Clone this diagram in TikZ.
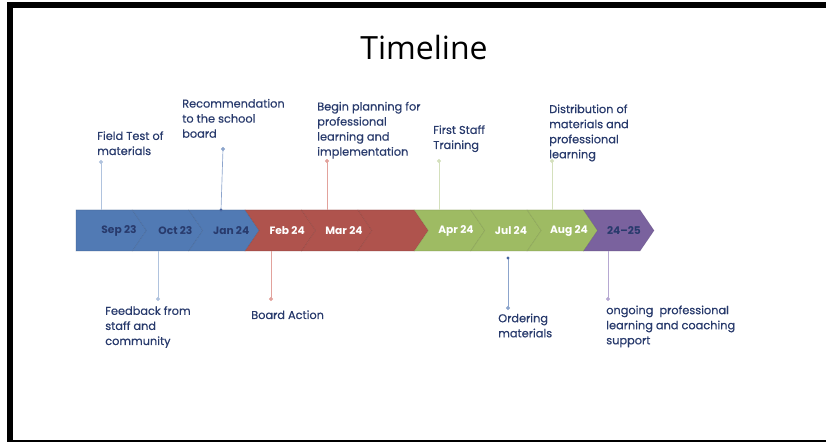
\documentclass[tikz,border=0pt]{standalone}
\usepackage{fontspec}
\setmainfont{Poppins}
\newfontfamily\titlefont{Open Sans}
\newfontfamily\calloutfont{Poppins}[FakeBold=0.5]
\usepackage{tikz}
\usetikzlibrary{calc}

\definecolor{tlblue}{RGB}{81,122,180}
\definecolor{tlred}{RGB}{175,83,77}
\definecolor{tlgreen}{RGB}{158,187,99}
\definecolor{tlpurple}{RGB}{122,98,158}
\definecolor{tlnavy}{RGB}{40,58,108}
\definecolor{pinpaleblue}{RGB}{176,195,222}
\definecolor{pinblue}{RGB}{140,164,204}
\definecolor{pindot}{RGB}{70,100,160}
\definecolor{pinsalmon}{RGB}{226,162,156}
\definecolor{pingreen}{RGB}{212,224,188}
\definecolor{pinpurple}{RGB}{182,168,210}

\tikzset{
  chevblue/.style={fill=tlblue, draw=tlblue!70!black, draw opacity=0.35, line width=0.4pt},
  chevred/.style={fill=tlred, draw=tlred!70!black, draw opacity=0.35, line width=0.4pt},
  chevgreen/.style={fill=tlgreen, draw=tlgreen!70!black, draw opacity=0.35, line width=0.4pt},
  chevpurple/.style={fill=tlpurple, draw=tlpurple!70!black, draw opacity=0.35, line width=0.4pt},
  seglabel/.style={inner sep=0.75pt, font=\fontsize{8}{10}\selectfont\bfseries},
  callout/.style={anchor=base west, inner sep=0pt, align=left, text=tlnavy,
    font=\calloutfont\fontsize{8.5}{11.3}\selectfont},
  pinline/.style={line width=0.5pt},
  pinend/.style={pinline, fill=white},
}

\begin{document}
\begin{tikzpicture}[x=0.75pt,y=0.75pt,yscale=-1,xscale=1]
\useasboundingbox (0,0) rectangle (826,442);

%Shape: Frame
\fill (7,2) rectangle (826,8);
\fill (7,2) rectangle (13,442);
\fill (7,440) rectangle (826,442);

% Title
\node [font=\titlefont\fontsize{24}{28}\selectfont, anchor=base] (title) at (424,60) {Timeline};

%Shape: Chevrons
\draw [chevblue] (76,210) -- (132.4,210) -- (146.4,230.5) -- (132.4,251) -- (76,251) -- cycle ;
\draw [chevblue] (132.4,210) -- (188.8,210) -- (202.8,230.5) -- (188.8,251) -- (132.4,251) -- (146.4,230.5) -- cycle ;
\draw [chevblue] (188.8,210) -- (245.2,210) -- (259.2,230.5) -- (245.2,251) -- (188.8,251) -- (202.8,230.5) -- cycle ;
\draw [chevred] (245.2,210) -- (301.6,210) -- (315.6,230.5) -- (301.6,251) -- (245.2,251) -- (259.2,230.5) -- cycle ;
\draw [chevred] (301.6,210) -- (358,210) -- (372,230.5) -- (358,251) -- (301.6,251) -- (315.6,230.5) -- cycle ;
\draw [chevred] (358,210) -- (414.4,210) -- (428.4,230.5) -- (414.4,251) -- (358,251) -- (372,230.5) -- cycle ;
\draw [chevgreen] (414.4,210) -- (470.8,210) -- (484.8,230.5) -- (470.8,251) -- (414.4,251) -- (428.4,230.5) -- cycle ;
\draw [chevgreen] (470.8,210) -- (527.2,210) -- (541.2,230.5) -- (527.2,251) -- (470.8,251) -- (484.8,230.5) -- cycle ;
\draw [chevgreen] (527.2,210) -- (583.6,210) -- (597.6,230.5) -- (583.6,251) -- (527.2,251) -- (541.2,230.5) -- cycle ;
\draw [chevpurple] (583.6,210) -- (640,210) -- (654,230.5) -- (640,251) -- (583.6,251) -- (597.6,230.5) -- cycle ;

% Segment labels
\node [seglabel, text=tlnavy] (sep23) at (119,230.5) {Sep 23};
\node [seglabel, text=tlnavy] (oct23) at (175.4,230.5) {Oct 23};
\node [seglabel, text=tlnavy] (jan24) at (231.2,230.5) {Jan 24};
\node [seglabel, text=white] (feb24) at (287.2,230.5) {Feb 24};
\node [seglabel, text=white] (mar24) at (344,230.5) {Mar 24};
\node [seglabel, text=white] (apr24) at (456,230.5) {Apr 24};
\node [seglabel, text=white] (jul24) at (511,230.5) {Jul 24};
\node [seglabel, text=white] (aug24) at (569,230.5) {Aug 24};
\node [seglabel, text=tlnavy] (y2425) at (624,230.5) {24–25};

% Text Node (base = last line)
\node [callout] (fieldtest) at (97,155) {Field Test of\\materials};
% Text Node
\node [callout] (recommend) at (182,137.7) {Recommendation\\to the school\\board};
% Text Node
\node [callout] (beginplan) at (317,155.7) {Begin planning for\\professional\\learning and\\implementation};
% Text Node
\node [callout] (firsttraining) at (433,149) {First Staff\\Training};
% Text Node
\node [callout] (distribution) at (549,158.3) {Distribution of\\materials and\\professional\\learning};
% Text Node
\node [callout] (feedback) at (105,345) {Feedback from\\staff and\\community};
% Text Node
\node [callout] (boardaction) at (251,319) {Board Action};
% Text Node
\node [callout] (ordering) at (498,337.3) {Ordering\\materials};
% Text Node
\node [callout] (ongoing) at (606,344.3) {ongoing~ professional\\learning and coaching\\support};

% Pin ends
\coordinate (fieldtest pin) at (101,162);
\coordinate (fieldtest bar) at (101,210);
\coordinate (recommend pin) at (223,149);
\coordinate (recommend bar) at (221,210);
\coordinate (beginplan pin) at (327,161);
\coordinate (beginplan bar) at (327,210);
\coordinate (firsttraining pin) at (439,161);
\coordinate (firsttraining bar) at (439,210);
\coordinate (distribution pin) at (552,161);
\coordinate (distribution bar) at (552,210);
\coordinate (feedback pin) at (158,299);
\coordinate (feedback bar) at (158,251);
\coordinate (boardaction pin) at (271,299);
\coordinate (boardaction bar) at (271,251);
\coordinate (ordering pin) at (508,308);
\coordinate (ordering bar) at (508,258);
\coordinate (ongoing pin) at (608,299);
\coordinate (ongoing bar) at (608,251);

%Straight Lines
\draw [pinline, pinpaleblue] (fieldtest pin) -- (fieldtest bar) ;
\draw [pinline, pinblue] (recommend pin) -- (recommend bar) ;
\draw [pinline, pinsalmon] (beginplan pin) -- (beginplan bar) ;
\draw [pinline, pingreen] (firsttraining pin) -- (firsttraining bar) ;
\draw [pinline, pingreen] (distribution pin) -- (distribution bar) ;
\draw [pinline, pinpaleblue] (feedback pin) -- (feedback bar) ;
\draw [pinline, pinsalmon] (boardaction pin) -- (boardaction bar) ;
\draw [pinline, pinblue] (ordering pin) -- (ordering bar) ;
\draw [pinline, pinpurple] (ongoing pin) -- (ongoing bar) ;

%Shape: Circles
\draw [pinend, pinpaleblue] (fieldtest pin) circle (1.7) ;
\draw [pinend, pinblue] (recommend pin) circle (1.7) ;
\fill [pindot] (recommend bar) circle (1.7) ;
\draw [pinend, pinsalmon] (beginplan pin) circle (1.7) ;
\draw [pinend, pingreen] (firsttraining pin) circle (1.7) ;
\draw [pinend, pingreen] (distribution pin) circle (1.7) ;
\draw [pinend, pinpaleblue] (feedback pin) circle (1.7) ;
\draw [pinend, pinsalmon] (boardaction pin) circle (1.7) ;
\draw [pinend, pinblue] (ordering pin) circle (1.7) ;
\fill [pindot] (ordering bar) circle (1.7) ;
\draw [pinend, pinpurple] (ongoing pin) circle (1.7) ;

\end{tikzpicture}
\end{document}
